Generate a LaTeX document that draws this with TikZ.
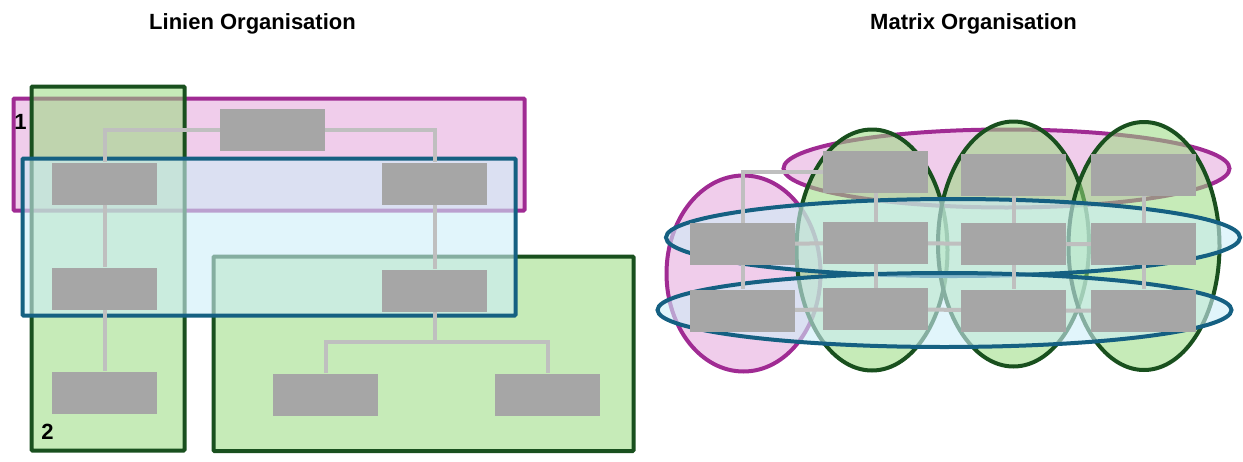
\documentclass[tikz,border=0pt]{standalone}
\usepackage{fontspec}
\setmainfont{Liberation Sans}
\definecolor{magline}{HTML}{A02B93}
\definecolor{magfill}{HTML}{F0CDEB}
\definecolor{grnline}{HTML}{19501E}
\definecolor{grnfill}{RGB}{151,218,125}
\definecolor{bluline}{HTML}{156082}
\definecolor{blufill}{RGB}{205,238,248}
\definecolor{boxgray}{HTML}{A6A6A6}
\definecolor{linkgray}{HTML}{BFBFBF}

\begin{document}
\begin{tikzpicture}[x=1pt,y=-1pt,
  mag/.style={draw=magline,line width=4pt,fill=magfill},
  grn/.style={draw=grnline,line width=4pt,fill=grnfill,fill opacity=0.55},
  blu/.style={draw=bluline,line width=4pt,fill=blufill,fill opacity=0.6},
  box/.style={fill=boxgray,minimum width=105pt,minimum height=42pt,inner sep=0pt},
  link/.style={draw=linkgray,line width=4pt},
  title/.style={font=\fontsize{22}{26}\selectfont\bfseries}]
\useasboundingbox (0,0) rectangle (1243,461);
\node[title] (tlin) at (252.5,24){Linien Organisation};
\node[title] (tmat) at (973.5,24){Matrix Organisation};

% Linien
\draw[mag,rounded corners=1pt] (13.5,98.5) rectangle (524.5,210.5);
\draw[grn,rounded corners=1pt] (31.5,86.5) rectangle (184.5,450.5);
\draw[grn,rounded corners=1pt] (213.5,256.5) rectangle (633.5,451);
\draw[blu,rounded corners=1pt] (22.5,158.5) rectangle (515.5,315.5);
\node[title] (n1) at (20.5,122){1}; \node[title] (n2) at (47.5,432){2};
\node[box] (L0) at (272.5,130){};
\node[box] (L1a) at (104.5,183.5){}; \node[box] (L1b) at (434.5,183.5){};
\node[box] (L2a) at (104.5,288.5){}; \node[box] (L2b) at (434.5,290.5){};
\node[box] (L3a) at (104.5,392.5){}; \node[box] (L3b) at (325.5,394.5){}; \node[box] (L3c) at (547.5,394.5){};
\coordinate (Lsplit) at (434.5,342);
\draw[link] (L0.west) -| (L1a.north); \draw[link] (L0.east) -| (L1b.north);
\draw[link] (L1a) -- (L2a) -- (L3a);
\draw[link] (L1b) -- (L2b) -- (Lsplit);
\draw[link] (L3b.north) |- (Lsplit) -| (L3c.north);

% Matrix
\draw[mag] (743.5,273.5) ellipse [x radius=77pt, y radius=98pt];
\draw[mag] (1006.5,168.5) ellipse [x radius=223pt, y radius=39pt];
\draw[grn] (872,250) ellipse [x radius=75.5pt, y radius=120.5pt];
\draw[grn] (1013.5,244) ellipse [x radius=75.5pt, y radius=122.5pt];
\draw[grn] (1144,246) ellipse [x radius=75.5pt, y radius=124pt];
\draw[blu] (953,237.5) ellipse [x radius=287pt, y radius=38.5pt];
\draw[blu] (944.5,310) ellipse [x radius=287pt, y radius=37pt];
\node[box] (M01) at (742.5,244){}; \node[box] (M02) at (742.5,310.5){};
\node[box] (M10) at (875.5,172){}; \node[box] (M11) at (875.5,243){}; \node[box] (M12) at (875.5,309){};
\node[box] (M20) at (1013.5,174.5){}; \node[box] (M21) at (1013.5,244){}; \node[box] (M22) at (1013.5,310.5){};
\node[box] (M30) at (1143.5,174.5){}; \node[box] (M31) at (1143.5,244){}; \node[box] (M32) at (1143.5,310.5){};
\draw[link] (M01.north) |- (M10.west);
\draw[link] (M01) -- (M02);
\draw[link] (M10) -- (M11) -- (M12); \draw[link] (M20) -- (M21) -- (M22); \draw[link] (M30) -- (M31) -- (M32);
\draw[link] (M01) -- (M11) -- (M21) -- (M31);
\draw[link] (M02) -- (M12) -- (M22) -- (M32);
\end{tikzpicture}
\end{document}
